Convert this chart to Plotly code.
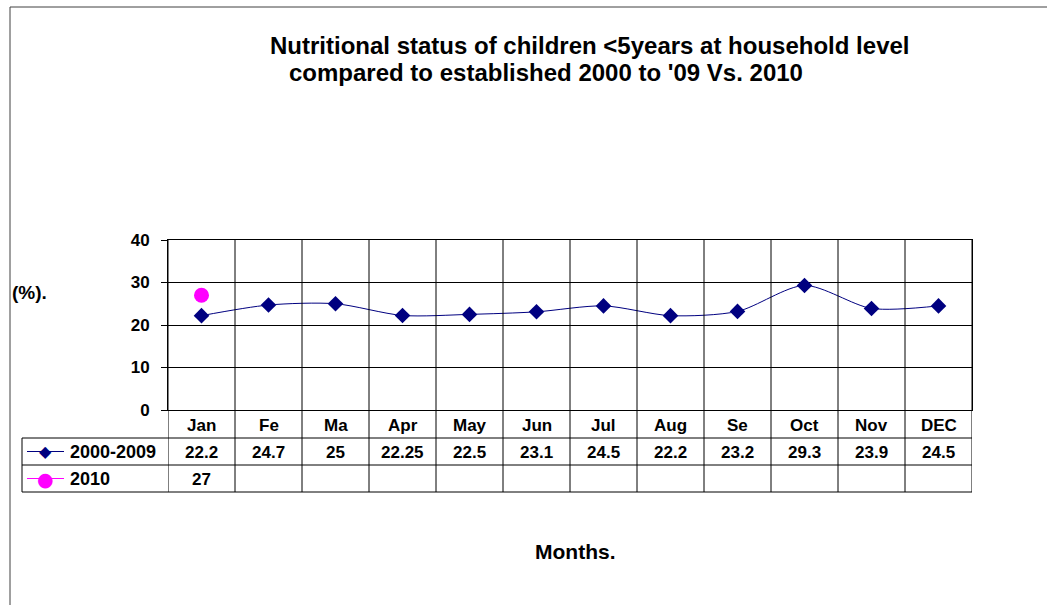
import plotly.graph_objects as go

months = ["Jan", "Fe", "Ma", "Apr", "May", "Jun", "Jul", "Aug", "Se", "Oct", "Nov", "DEC"]
series_2000_2009 = [22.2, 24.7, 25, 22.25, 22.5, 23.1, 24.5, 22.2, 23.2, 29.3, 23.9, 24.5]
series_2010 = [27]
series_names = ["2000-2009", "2010"]
y_ticks = [0, 10, 20, 30, 40]

W, H = 1047, 605
L, R, T, B = 168, 972, 240, 410
FONT = "Liberation Sans, Arial, sans-serif"
NAVY = "#000080"
MAGENTA = "#FF00FF"

def px(xp):
    return (xp - L) / (R - L)

def py(yp):
    return (B - yp) / (B - T)

x_idx = list(range(len(months)))

fig = go.Figure()
fig.add_trace(go.Scatter(
    x=x_idx, y=series_2000_2009, mode="lines+markers", name=series_names[0],
    line=dict(color=NAVY, width=1, shape="spline", smoothing=0.8),
    marker=dict(symbol="diamond", size=12, color=NAVY),
))
fig.add_trace(go.Scatter(
    x=x_idx[:len(series_2010)], y=series_2010, mode="markers", name=series_names[1],
    marker=dict(symbol="circle", size=15, color=MAGENTA),
))

shapes = []
row_tops = [B, B + 28, B + 55, B + 82]
table_bottom = row_tops[-1]
left_col = 22
# vertical category boundaries through plot and table
for i in range(len(months) + 1):
    shapes.append(dict(type="line", xref="x", yref="paper", x0=i - 0.5, x1=i - 0.5,
                       y0=py(table_bottom), y1=1, line=dict(color="black", width=1)))
# table horizontal lines
for yt in row_tops[1:]:
    shapes.append(dict(type="line", xref="paper", yref="paper", x0=px(left_col), x1=1,
                       y0=py(yt), y1=py(yt), line=dict(color="black", width=1)))
shapes.append(dict(type="line", xref="paper", yref="paper", x0=px(left_col), x1=px(left_col),
                   y0=py(row_tops[1]), y1=py(table_bottom), line=dict(color="black", width=1)))
# legend key lines
for yt, col in [(row_tops[1], NAVY), (row_tops[2], MAGENTA)]:
    yc = yt + 13.5
    shapes.append(dict(type="line", xref="paper", yref="paper", x0=px(27), x1=px(64),
                       y0=py(yc), y1=py(yc), line=dict(color=col, width=1)))
# outer chart border
shapes.append(dict(type="rect", xref="paper", yref="paper", x0=px(10), x1=px(W + 20),
                   y0=py(H + 20), y1=py(7), line=dict(color="#404040", width=1)))

annotations = []
tfont = dict(family=FONT, size=17, color="black")
# month labels row
for i, m in enumerate(months):
    annotations.append(dict(x=i, y=py(row_tops[0] + 15), xref="x", yref="paper", text=f"<b>{m}</b>",
                            showarrow=False, font=tfont, xanchor="center", yanchor="middle"))
for i, v in enumerate(series_2000_2009):
    annotations.append(dict(x=i, y=py(row_tops[1] + 14), xref="x", yref="paper", text=f"<b>{v:g}</b>",
                            showarrow=False, font=tfont, xanchor="center", yanchor="middle"))
for i, v in enumerate(series_2010):
    annotations.append(dict(x=i, y=py(row_tops[2] + 14), xref="x", yref="paper", text=f"<b>{v:g}</b>",
                            showarrow=False, font=tfont, xanchor="center", yanchor="middle"))
# legend keys
annotations.append(dict(x=px(45), y=py(row_tops[1] + 13.5), xref="paper", yref="paper", text="◆",
                        showarrow=False, font=dict(family="DejaVu Sans", size=16, color=NAVY),
                        xanchor="center", yanchor="middle"))
annotations.append(dict(x=px(45), y=py(row_tops[2] + 13.5), xref="paper", yref="paper", text="●",
                        showarrow=False, font=dict(family="DejaVu Sans", size=19, color=MAGENTA),
                        xanchor="center", yanchor="middle"))
annotations.append(dict(x=px(68), y=py(row_tops[1] + 14), xref="paper", yref="paper",
                        text=f"<b>{series_names[0]}</b>", showarrow=False,
                        font=dict(family=FONT, size=18, color="black"),
                        xanchor="left", yanchor="middle"))
annotations.append(dict(x=px(68), y=py(row_tops[2] + 14), xref="paper", yref="paper",
                        text=f"<b>{series_names[1]}</b>", showarrow=False,
                        font=dict(family=FONT, size=18, color="black"),
                        xanchor="left", yanchor="middle"))
# axis titles & title
annotations.append(dict(x=px(10), y=py(292), xref="paper", yref="paper", text="<b>(%).</b>",
                        showarrow=False, font=dict(family=FONT, size=19, color="black"),
                        xanchor="left", yanchor="middle"))
annotations.append(dict(x=px(575), y=py(551), xref="paper", yref="paper", text="<b>Months.</b>",
                        showarrow=False, font=dict(family=FONT, size=21, color="black"),
                        xanchor="center", yanchor="middle"))
title_font = dict(family=FONT, size=24, color="black")
annotations.append(dict(x=px(268), y=py(45), xref="paper", yref="paper",
                        text="<b>Nutritional status of children &lt;5years at household level</b>",
                        showarrow=False, font=title_font, xanchor="left", yanchor="middle"))
annotations.append(dict(x=px(287), y=py(72), xref="paper", yref="paper",
                        text="<b>compared to established 2000 to '09 Vs. 2010</b>",
                        showarrow=False, font=title_font, xanchor="left", yanchor="middle"))

fig.update_layout(
    width=W, height=H, autosize=False,
    margin=dict(l=L, r=W - R, t=T, b=H - B, pad=0),
    paper_bgcolor="white", plot_bgcolor="white",
    showlegend=False,
    shapes=shapes, annotations=annotations,
    xaxis=dict(range=[-0.5, len(months) - 0.5], showgrid=False, zeroline=False,
               showticklabels=False, ticks="", showline=True, mirror=True,
               linecolor="black", linewidth=1, fixedrange=True),
    yaxis=dict(range=[0, 40], tickvals=y_ticks, ticktext=[f"<b>{t}</b>" for t in y_ticks],
               showgrid=True, gridcolor="black", gridwidth=1, zeroline=False,
               ticks="outside", ticklen=6, tickcolor="black", ticklabelstandoff=8,
               showline=True, mirror=True, linecolor="black", linewidth=1,
               tickfont=dict(family=FONT, size=17, color="black"), fixedrange=True),
)

fig.write_html("out.html", config={"displayModeBar": False},
               post_script="document.body.style.margin='0';document.body.style.overflow='hidden';")
